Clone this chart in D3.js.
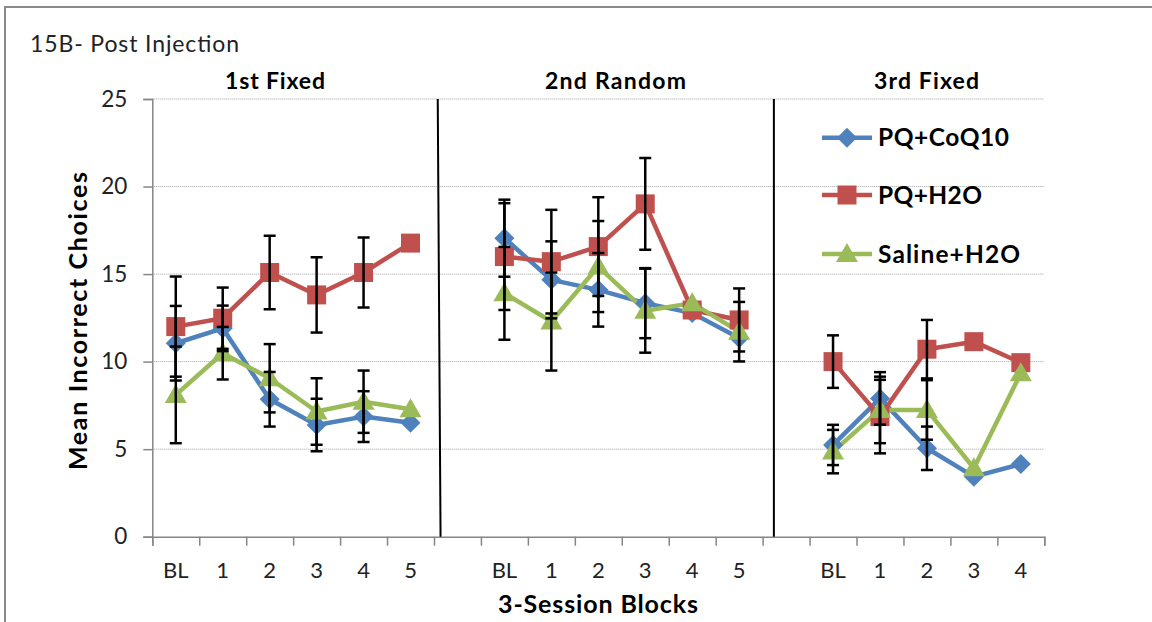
<!DOCTYPE html>
<html><head><meta charset="utf-8">
<script src="https://cdn.jsdelivr.net/npm/d3@7"></script>
<style>body{margin:0;background:#fff}svg{display:block}text{font-family:Lato,"Open Sans",sans-serif}</style>
</head><body>
<svg id="c" width="1152" height="622"></svg>
<script>
const categories = ["BL","1","2","3","4","5","","BL","1","2","3","4","5","","BL","1","2","3","4"];
const panels = ["1st Fixed","2nd Random","3rd Fixed"];
const seriesNames = ["PQ+CoQ10","PQ+H2O","Saline+H2O"];
const coq10 = [11.05,11.9,7.85,6.38,6.86,6.51,null,17.05,14.67,14.1,13.34,12.77,11.35,null,5.24,7.9,5.05,3.43,4.15];
const coq10Err = [2.13,1.3,1.56,1.5,1.45,0,null,2.2,2.2,2.1,2.0,0,0,null,1.15,1.5,1.24,0,0];
const pqH2O = [12.0,12.48,15.09,13.81,15.09,16.77,null,16.0,15.71,16.57,19.01,12.95,12.38,null,10.0,6.86,10.71,11.14,9.94];
const pqH2OErr = [2.86,1.75,2.1,2.15,2.0,0,null,3.05,2.96,2.82,2.62,0,1.8,null,1.5,2.1,1.67,0,0];
const saline = [8.1,10.48,9.05,7.15,7.71,7.28,null,13.9,12.29,15.43,12.91,13.34,11.71,null,4.86,7.24,7.24,3.91,9.34];
const salineErr = [2.76,1.5,1.95,1.9,1.78,0,null,2.65,2.8,2.6,2.4,0,1.7,null,1.24,1.9,1.7,0,0];
const yTicks = [0,5,10,15,20,25];

const colors = ["#4F81BD","#C0504D","#9BBB59"];
const shapes = ["diamond","square","triangle"];
const series = [
  {name: seriesNames[0], values: coq10, err: coq10Err},
  {name: seriesNames[1], values: pqH2O, err: pqH2OErr},
  {name: seriesNames[2], values: saline, err: salineErr}
];

const svg = d3.select("#c");
const L = 152.3, R = 1044.3, T = 99, B = 536.7;
const x = d3.scaleLinear().domain([0, categories.length]).range([L, R]);
const y = d3.scaleLinear().domain([0, 25]).range([B, T]);
const cx = i => x(i + 0.5);

// outer border
svg.append("rect").attr("x",5).attr("y",7).attr("width",1200).attr("height",700)
  .attr("fill","none").attr("stroke","#8a8a8a").attr("stroke-width",2);

// grid
svg.append("g").selectAll("line").data(yTicks.filter(d=>d>0)).join("line")
  .attr("x1",L).attr("x2",R).attr("y1",d=>y(d)).attr("y2",d=>y(d))
  .attr("stroke","#a0a0a0").attr("stroke-width",1).attr("stroke-dasharray","1,1");

// y axis
const ya = svg.append("g").attr("transform",`translate(${L},0)`)
  .call(d3.axisLeft(y).tickValues(yTicks).tickSize(9).tickPadding(16));
ya.select(".domain").attr("stroke","#868686").attr("stroke-width",1.5);
ya.selectAll(".tick line").attr("stroke","#868686").attr("stroke-width",1.5);
ya.selectAll(".tick text").attr("font-size",22.5).attr("fill","#222").attr("font-family","Lato");

// x axis
const xa = svg.append("g").attr("transform",`translate(0,${B})`)
  .call(d3.axisBottom(x).tickValues(d3.range(categories.length+1)).tickSize(9).tickFormat(""));
xa.select(".domain").attr("stroke","#868686").attr("stroke-width",1.5);
xa.selectAll(".tick line").attr("stroke","#868686").attr("stroke-width",1.5);
svg.append("g").selectAll("text").data(categories).join("text")
  .attr("x",(d,i)=>cx(i)).attr("y",578).attr("text-anchor","middle")
  .attr("font-size",22).attr("fill","#222").text(d=>d);

// dividers
const dividers = [[6.08,6.14],[13.24,13.24]];
svg.append("g").selectAll("line").data(dividers).join("line")
  .attr("x1",d=>x(d[0])).attr("x2",d=>x(d[1])).attr("y1",y(25)).attr("y2",y(0))
  .attr("stroke","#000").attr("stroke-width",2);

// titles
svg.append("text").attr("x",30).attr("y",51.5).attr("font-size",23).attr("fill","#222")
  .attr("textLength",209).attr("lengthAdjust","spacing").text("15B- Post Injection");
const panelCenters = [275, 615.5, 926.5];
const panelWidths = [100, 141, 105];
svg.append("g").selectAll("text").data(panels).join("text")
  .attr("x",(d,i)=>panelCenters[i]-panelWidths[i]/2).attr("y",89)
  .attr("textLength",(d,i)=>panelWidths[i]).attr("lengthAdjust","spacing")
  .attr("font-size",23).attr("font-weight","bold").attr("fill","#000").text(d=>d);
svg.append("text").attr("transform","translate(87,470) rotate(-90)")
  .attr("textLength",298).attr("lengthAdjust","spacing")
  .attr("font-size",25).attr("font-weight","bold").text("Mean Incorrect Choices");
svg.append("text").attr("x",498).attr("y",613)
  .attr("textLength",200).attr("lengthAdjust","spacing")
  .attr("font-size",25).attr("font-weight","bold").text("3-Session Blocks");

function markerPath(shape){
  if(shape==="diamond") return "M0,-10L10,0L0,10L-10,0Z";
  if(shape==="square") return "M-9.5,-9.5H9.5V9.5H-9.5Z";
  return "M0,-11L11,8L-11,8Z";
}

// lines
const line = d3.line().defined(d=>d.v!==null).x(d=>cx(d.i)).y(d=>y(d.v));
series.forEach((s,k)=>{
  svg.append("path").datum(s.values.map((v,i)=>({v,i})))
    .attr("d",line).attr("fill","none").attr("stroke",colors[k]).attr("stroke-width",4.5)
    .attr("stroke-linejoin","round");
});
// markers
series.forEach((s,k)=>{
  svg.append("g").selectAll("path").data(s.values.map((v,i)=>({v,i})).filter(d=>d.v!==null)).join("path")
    .attr("transform",d=>`translate(${cx(d.i)},${y(d.v)})`)
    .attr("d",markerPath(shapes[k])).attr("fill",colors[k]);
});
// error bars
series.forEach((s,k)=>{
  const eb = s.values.map((v,i)=>({v,i,e:s.err[i]})).filter(d=>d.v!==null && d.e>0);
  const g = svg.append("g").attr("stroke","#000").attr("stroke-width",2.5);
  g.selectAll(".v").data(eb).join("line").attr("x1",d=>cx(d.i)).attr("x2",d=>cx(d.i))
    .attr("y1",d=>y(d.v+d.e)).attr("y2",d=>y(d.v-d.e));
  g.selectAll(".t").data(eb).join("line").attr("x1",d=>cx(d.i)-6).attr("x2",d=>cx(d.i)+6)
    .attr("y1",d=>y(d.v+d.e)).attr("y2",d=>y(d.v+d.e));
  g.selectAll(".b").data(eb).join("line").attr("x1",d=>cx(d.i)-6).attr("x2",d=>cx(d.i)+6)
    .attr("y1",d=>y(d.v-d.e)).attr("y2",d=>y(d.v-d.e));
});

// legend
const legY = [137.7, 195, 254];
const legW = [131, 104, 142];
const lg = svg.append("g");
series.forEach((s,k)=>{
  lg.append("line").attr("x1",822).attr("x2",872).attr("y1",legY[k]).attr("y2",legY[k])
    .attr("stroke",colors[k]).attr("stroke-width",4.5);
  lg.append("path").attr("transform",`translate(847,${legY[k]})`).attr("d",markerPath(shapes[k])).attr("fill",colors[k]);
  lg.append("text").attr("x",878).attr("y",legY[k]+8.5).attr("font-size",24.5).attr("font-weight","bold")
    .attr("textLength",legW[k]).attr("lengthAdjust","spacing").text(s.name);
});
</script>
</body></html>
